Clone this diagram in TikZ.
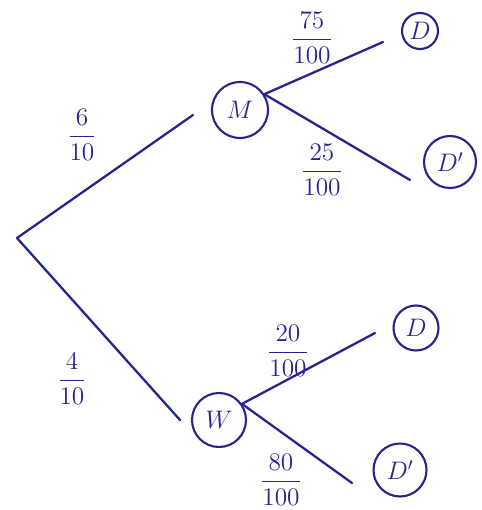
\documentclass[tikz,border=0pt]{standalone}
\usepackage{amsmath}
\definecolor{inkblue}{RGB}{38,36,140}
\begin{document}
\begin{tikzpicture}[x=0.02cm, y=-0.02cm,
		branch/.style={draw=inkblue, line width=1.3pt, line cap=round},
		event/.style={circle, draw=inkblue, line width=1.2pt, text=inkblue, inner sep=0pt, font=\Large},
		prob/.style={text=inkblue, font=\Large}]
	\useasboundingbox (0,0) rectangle (481,510);

	% Draw root and first level
	\coordinate (root) at (17,238);
	\node[event, minimum size=1.12cm] (m) at (240,110) {$M$};
	\node[event, minimum size=1.08cm] (w) at (219,420) {$W$};

	% Draw outcomes
	\node[event, minimum size=0.72cm] (d1) at (420,31) {$D$};
	\node[event, minimum size=1.04cm] (d1c) at (450,162) {$D'$};
	\node[event, minimum size=0.9cm] (d2) at (416,328) {$D$};
	\node[event, minimum size=1.06cm] (d2c) at (400,470) {$D'$};

	% Branch ends
	\coordinate (em) at (193,115);
	\coordinate (ew) at (180,420);
	\coordinate (ed1) at (383,42);
	\coordinate (ed1c) at (410,180);
	\coordinate (ed2) at (375,333);
	\coordinate (ed2c) at (352,483);

	% Draw branches
	\draw[branch] (root) -- (em);
	\draw[branch] (root) -- (ew);
	\draw[branch] (m.33) -- (ed1);
	\draw[branch] (m.33) -- (ed1c);
	\draw[branch] (w.35) -- (ed2);
	\draw[branch] (w.35) -- (ed2c);

	% Draw probabilities
	\node[prob] (p1) at (82,135) {$\dfrac{6}{10}$};
	\node[prob] (p2) at (72,379) {$\dfrac{4}{10}$};
	\node[prob] (p3) at (312,38) {$\dfrac{75}{100}$};
	\node[prob] (p4) at (322,170) {$\dfrac{25}{100}$};
	\node[prob] (p5) at (288,351) {$\dfrac{20}{100}$};
	\node[prob] (p6) at (281,480) {$\dfrac{80}{100}$};
\end{tikzpicture}
\end{document}
